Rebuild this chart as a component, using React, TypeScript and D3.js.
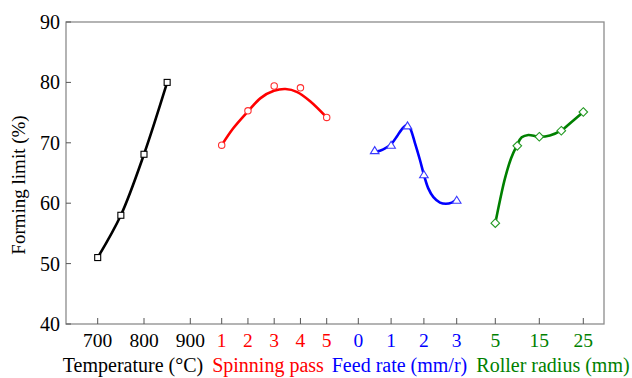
import React from "react";
import * as d3 from "d3";

// ---- data ----
const tempX = [700, 750, 800, 850];
const tempY = [51.0, 58.0, 68.1, 80.0];

const passX = [1, 2, 3, 4, 5];
const passY = [69.6, 75.3, 79.4, 79.1, 74.2];
const passFitX = [1.0, 1.44, 2.0, 2.48, 2.99, 3.43, 3.88, 4.39, 5.0];
const passFitY = [69.6, 72.4, 75.2, 77.4, 78.6, 78.9, 78.4, 76.8, 74.2];

const feedX = [0.5, 1, 1.5, 2, 3];
const feedY = [68.7, 69.6, 72.8, 64.7, 60.5];
const feedFitX = [0.5, 0.66, 0.87, 1.0, 1.17, 1.32, 1.48, 1.58, 1.73, 1.88, 2.01, 2.13, 2.29, 2.49, 2.67, 2.85, 3.0];
const feedFitY = [68.5, 68.7, 69.25, 69.75, 71.0, 72.2, 72.95, 72.4, 69.9, 67.15, 64.5, 62.5, 61.0, 60.1, 59.9, 60.1, 60.6];

const radiusX = [5, 10, 15, 20, 25];
const radiusY = [56.7, 69.5, 71.0, 72.0, 75.1];
const radiusFitX = [5.0, 6.07, 7.2, 8.57, 9.86, 11.0, 12.5, 14.9, 17.4, 19.9, 22.4, 25.0];
const radiusFitY = [56.7, 60.5, 64.1, 67.4, 69.5, 70.9, 71.3, 71.0, 71.2, 72.0, 73.5, 75.1];

const yTicks = [40, 50, 60, 70, 80, 90];
const tempTicks = [700, 800, 900];
const passTicks = [1, 2, 3, 4, 5];
const feedTicks = [0, 1, 2, 3];
const radiusTicks = [5, 15, 25];

const W = 632, H = 378;
const L = 66, T = 22, R = 604, B = 324;
const FONT = "'Liberation Serif', 'Times New Roman', serif";

const y = d3.scaleLinear().domain([40, 90]).range([B, T]);
const xTemp = d3.scaleLinear().domain([700, 900]).range([97.7, 190.3]);
const xPass = d3.scaleLinear().domain([1, 5]).range([221.7, 326.7]);
const xFeed = d3.scaleLinear().domain([0, 3]).range([358.3, 456.7]);
const xRad = d3.scaleLinear().domain([5, 25]).range([495.3, 583.3]);

type Series = {
  x: number[]; y: number[]; fx: number[]; fy: number[];
  scale: d3.ScaleLinear<number, number>; color: string; mcolor: string; shape: string;
};

const series: Series[] = [
  { x: tempX, y: tempY, fx: tempX, fy: tempY, scale: xTemp, color: "#000000", mcolor: "#000000", shape: "square" },
  { x: passX, y: passY, fx: passFitX, fy: passFitY, scale: xPass, color: "#ff0000", mcolor: "#ff3030", shape: "circle" },
  { x: feedX, y: feedY, fx: feedFitX, fy: feedFitY, scale: xFeed, color: "#0000ff", mcolor: "#3a3aff", shape: "triangle" },
  { x: radiusX, y: radiusY, fx: radiusFitX, fy: radiusFitY, scale: xRad, color: "#008000", mcolor: "#229922", shape: "diamond" },
];

const groups = [
  { ticks: tempTicks, scale: xTemp, color: "#000000", title: "Temperature (\u00B0C)", cx: 133 },
  { ticks: passTicks, scale: xPass, color: "#ff0000", title: "Spinning pass", cx: 268 },
  { ticks: feedTicks, scale: xFeed, color: "#0000ff", title: "Feed rate (mm/r)", cx: 399.5 },
  { ticks: radiusTicks, scale: xRad, color: "#008000", title: "Roller radius (mm)", cx: 553 },
];

function Marker({ shape, x, y: yy, color }: { shape: string; x: number; y: number; color: string }) {
  const common = { fill: "#ffffff", stroke: color, strokeWidth: 1.1 };
  if (shape === "square") return <rect x={x - 3} y={yy - 3} width={6} height={6} {...common} />;
  if (shape === "circle") return <circle cx={x} cy={yy} r={3.2} {...common} />;
  if (shape === "triangle")
    return <path d={`M${x},${yy - 4}L${x + 4.3},${yy + 3}L${x - 4.3},${yy + 3}Z`} {...common} />;
  return <path d={`M${x},${yy - 4.3}L${x + 4.3},${yy}L${x},${yy + 4.3}L${x - 4.3},${yy}Z`} {...common} />;
}

export default function App() {
  return (
    <svg width={W} height={H} style={{ position: "absolute", left: 0, top: 0, background: "#fff" }} fontFamily={FONT}>
      <rect x={0} y={0} width={W} height={H} fill="#fff" />
      {/* frame */}
      <rect x={L} y={T} width={R - L} height={B - T} fill="none" stroke="#8c8c8c" strokeWidth={1.3} />
      {/* y ticks */}
      {yTicks.map((t) => (
        <g key={"y" + t}>
          <line x1={L} x2={L + 5} y1={y(t)} y2={y(t)} stroke="#555" strokeWidth={1} />
          <text x={L - 6} y={y(t)} dy="0.35em" textAnchor="end" fontSize={20} fill="#000">{t}</text>
        </g>
      ))}
      <text transform={`translate(25,${(T + B) / 2 + 12}) rotate(-90)`} textAnchor="middle" fontSize={19} fill="#000">
        Forming limit (%)
      </text>
      {/* x ticks per group */}
      {groups.map((g, gi) => (
        <g key={"g" + gi}>
          {g.ticks.map((t) => (
            <g key={t}>
              <line x1={g.scale(t)} x2={g.scale(t)} y1={B} y2={B - 6} stroke="#555" strokeWidth={1} />
              <text x={g.scale(t)} y={346.5} textAnchor="middle" fontSize={19.5} fill={g.color}>{t}</text>
            </g>
          ))}
          <text x={g.cx} y={372} textAnchor="middle" fontSize={20} fill={g.color}>{g.title}</text>
        </g>
      ))}
      {/* curves */}
      {series.map((s, i) => {
        const pts: [number, number][] = s.fx.map((v, k) => [s.scale(v), y(s.fy[k])]);
        const d = d3.line().curve(d3.curveCatmullRom.alpha(0.5))(pts) || "";
        return <path key={"l" + i} d={d} fill="none" stroke={s.color} strokeWidth={2.6} strokeLinejoin="round" strokeLinecap="round" />;
      })}
      {/* markers */}
      {series.map((s, i) => (
        <g key={"m" + i}>
          {s.x.map((v, k) => (
            <Marker key={k} shape={s.shape} x={s.scale(v)} y={y(s.y[k])} color={s.mcolor} />
          ))}
        </g>
      ))}
    </svg>
  );
}
